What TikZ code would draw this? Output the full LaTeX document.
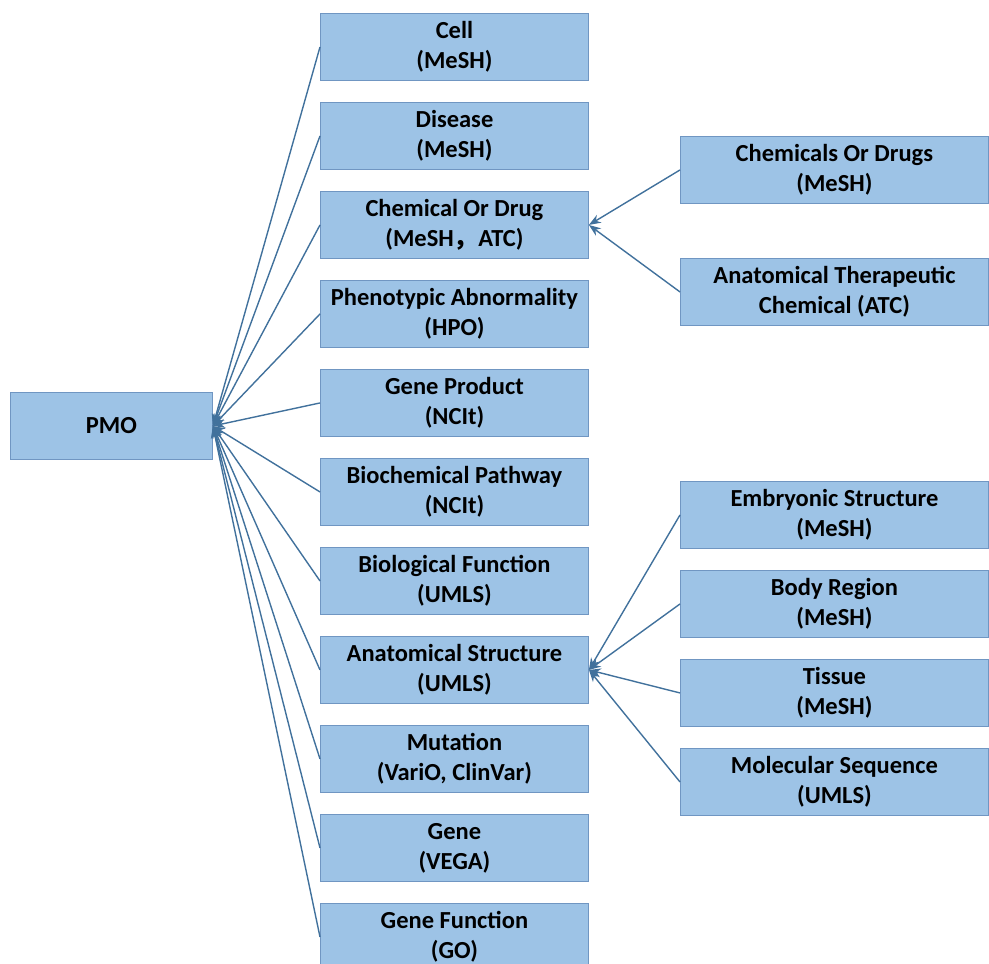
\documentclass[tikz,border=0pt]{standalone}
\usepackage{fontspec}
\setmainfont{Carlito}
\newfontfamily\cjk{Noto Sans CJK SC}
\usetikzlibrary{arrows.meta}
\definecolor{boxfill}{HTML}{9DC3E6}
\definecolor{boxline}{HTML}{7096C2}
\definecolor{linkcol}{HTML}{41719C}
\begin{document}
\begin{tikzpicture}[x=1pt,y=-1pt,
  box/.style={draw=boxline, fill=boxfill, line width=0.9pt, inner sep=0pt, align=center,
    font=\fontsize{24.5}{30}\selectfont\bfseries, anchor=north west},
  midbox/.style={box, minimum width=268pt, minimum height=67pt},
  rbox/.style={box, minimum width=308pt, minimum height=67pt},
  link/.style={draw=linkcol, line width=1.4pt, -{Stealth[length=12pt,width=9pt]}}]
\useasboundingbox (0,0) rectangle (989,964);
\node[box, minimum width=202pt, minimum height=67pt] (pmo) at (10,392) {PMO};
\node[midbox] (cell) at (320,13) {Cell\\(MeSH)};
\node[midbox] (dis) at (320,102) {Disease\\(MeSH)};
\node[midbox] (chem) at (320,191) {Chemical Or Drug\\(MeSH{\cjk ，}ATC)};
\node[midbox] (pheno) at (320,280) {Phenotypic Abnormality\\(HPO)};
\node[midbox] (gp) at (320,369) {Gene Product\\(NCIt)};
\node[midbox] (bp) at (320,458) {Biochemical Pathway\\(NCIt)};
\node[midbox] (bf) at (320,547) {Biological Function\\(UMLS)};
\node[midbox] (anat) at (320,636) {Anatomical Structure\\(UMLS)};
\node[midbox] (mut) at (320,725) {Mutation\\(VariO, ClinVar)};
\node[midbox] (gene) at (320,814) {Gene\\(VEGA)};
\node[midbox] (gf) at (320,903) {Gene Function\\(GO)};
\node[rbox] (cod) at (680,136) {Chemicals Or Drugs\\(MeSH)};
\node[rbox] (atc) at (680,258) {Anatomical Therapeutic\\Chemical (ATC)};
\node[rbox] (emb) at (680,481) {Embryonic Structure\\(MeSH)};
\node[rbox] (body) at (680,570) {Body Region\\(MeSH)};
\node[rbox] (tis) at (680,659) {Tissue\\(MeSH)};
\node[rbox] (mol) at (680,748) {Molecular Sequence\\(UMLS)};
\foreach \n in {cell,dis,chem,pheno,gp,bp,bf,anat,mut,gene,gf}
  \draw[link] (\n.west) -- (pmo.east);
\foreach \n in {cod,atc}
  \draw[link] (\n.west) -- (chem.east);
\foreach \n in {emb,body,tis,mol}
  \draw[link] (\n.west) -- (anat.east);
\end{tikzpicture}
\end{document}
